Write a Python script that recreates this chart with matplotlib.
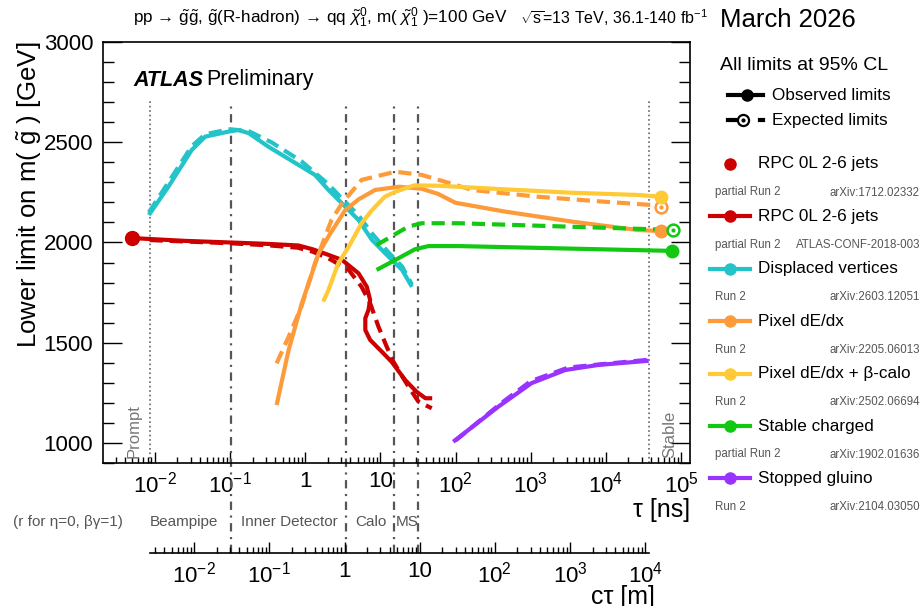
import numpy as np
import matplotlib
matplotlib.use("Agg")
import matplotlib.pyplot as plt
import matplotlib.transforms as mtransforms
from matplotlib.lines import Line2D
from matplotlib.ticker import FixedLocator, NullFormatter, FuncFormatter, MultipleLocator

plt.rcParams['font.family'] = ['Liberation Sans', 'DejaVu Sans']
plt.rcParams['mathtext.fontset'] = 'custom'
plt.rcParams['mathtext.rm'] = 'Liberation Sans'
plt.rcParams['mathtext.it'] = 'Liberation Sans:italic'
plt.rcParams['mathtext.bf'] = 'Liberation Sans:bold'
plt.rcParams['lines.scale_dashes'] = False

C_LIGHT = 0.2998  # m per ns

# ------------------------------------------------------------
# limits: log10(tau / ns), m(gluino) [GeV]
# ------------------------------------------------------------
rpc_prompt_logtau = [-2.30]
rpc_prompt_mass = [2022]

rpc_obs_logtau = [-2.30, -1.6, -1.0, -0.5, -0.09, 0.10, 0.31, 0.49, 0.71, 0.82, 0.864,
                  0.842, 0.80, 0.80, 0.864, 1.02, 1.15, 1.33, 1.48, 1.60, 1.69]
rpc_obs_mass = [2022, 2008, 2000, 1993, 1985, 1966, 1938, 1913, 1846, 1779, 1713,
                1663, 1622, 1563, 1514, 1455, 1405, 1314, 1256, 1223, 1223]
rpc_exp_logtau = [-2.07, -1.0, -0.5, -0.10, 0.10, 0.31, 0.58, 0.75, 0.864, 0.975,
                  1.085, 1.174, 1.374, 1.507, 1.684]
rpc_exp_mass = [2012, 1996, 1986, 1974, 1954, 1921, 1863, 1779, 1697, 1580,
                1480, 1405, 1281, 1206, 1173]

dv_obs_logtau = [-2.08, -1.82, -1.51, -1.33, -1.02, -0.89, -0.75, -0.49, -0.05, 0.13,
                 0.31, 0.49, 0.71, 0.89, 1.11, 1.29, 1.42]
dv_obs_mass = [2137, 2278, 2461, 2528, 2553, 2561, 2545, 2478, 2378, 2337,
               2262, 2195, 2112, 2012, 1929, 1863, 1779]
dv_exp_logtau = [-2.08, -1.82, -1.51, -1.33, -1.0, -0.75, -0.45, -0.05, 0.31, 0.50,
                 0.71, 0.90, 1.11, 1.29, 1.42]
dv_exp_mass = [2150, 2300, 2480, 2540, 2565, 2555, 2500, 2405, 2290, 2215,
               2135, 2040, 1950, 1880, 1790]

pix_obs_logtau = [-0.38, -0.22, -0.05, 0.18, 0.31, 0.53, 0.71, 0.93, 1.25, 1.55,
                  1.77, 2.00, 2.66, 3.55, 4.43, 4.74]
pix_obs_mass = [1189, 1464, 1690, 1946, 2030, 2160, 2215, 2262, 2278, 2268,
                2242, 2198, 2154, 2104, 2062, 2057]
pix_exp_logtau = [-0.38, -0.22, -0.05, 0.13, 0.35, 0.49, 0.75, 1.20, 1.55, 1.86,
                  2.22, 3.10, 3.99, 4.61, 4.74]
pix_exp_mass = [1397, 1530, 1680, 1896, 2112, 2195, 2312, 2353, 2337, 2303,
                2262, 2228, 2203, 2187, 2176]

pixcalo_obs_logtau = [0.24, 0.31, 0.44, 0.58, 0.75, 0.89, 1.06, 1.20, 1.45, 1.77,
                      2.66, 3.55, 4.43, 4.74]
pixcalo_obs_mass = [1705, 1763, 1896, 1979, 2096, 2162, 2228, 2253, 2285, 2283,
                    2265, 2248, 2237, 2228]

stable_obs_logtau = [0.95, 1.20, 1.46, 1.64, 2.04, 4.88]
stable_obs_mass = [1863, 1913, 1966, 1982, 1982, 1958]
stable_exp_logtau = [0.95, 1.37, 1.55, 2.04, 4.61, 4.90]
stable_exp_mass = [1987, 2079, 2096, 2096, 2066, 2062]

stopped_obs_logtau = [1.97, 2.57, 3.01, 3.46, 3.90, 4.57]
stopped_obs_mass = [1006, 1181, 1298, 1364, 1389, 1410]
stopped_exp_logtau = [2.00, 2.60, 3.00, 3.50, 4.00, 4.57]
stopped_exp_mass = [1012, 1196, 1308, 1376, 1395, 1415]

# detector boundaries (r in m for eta=0, beta*gamma=1)
boundary_r = [0.031, 1.05, 4.6, 9.5]
prompt_logtau = -2.07
stable_logtau = 4.57

RED = '#cc0000'
CYAN = '#22c4c9'
ORANGE = '#fd9a3a'
YELLOW = '#ffca35'
GREEN = '#12c812'
PURPLE = '#9933ff'
GREY = '#555555'

legend_entries = [
    ("RPC 0L 2-6 jets", "partial Run 2", "arXiv:1712.02332", RED, False),
    ("RPC 0L 2-6 jets", "partial Run 2", "ATLAS-CONF-2018-003", RED, True),
    ("Displaced vertices", "Run 2", "arXiv:2603.12051", CYAN, True),
    ("Pixel dE/dx", "Run 2", "arXiv:2205.06013", ORANGE, True),
    ("Pixel dE/dx + β-calo", "Run 2", "arXiv:2502.06694", YELLOW, True),
    ("Stable charged", "partial Run 2", "arXiv:1902.01636", GREEN, True),
    ("Stopped gluino", "Run 2", "arXiv:2104.03050", PURPLE, True),
]

W, H = 923, 606


def fx(x):
    return x / W


def fy(y):
    return 1 - y / H


fig = plt.figure(figsize=(W / 100, H / 100), dpi=100)
ax = fig.add_axes([fx(103), fy(463), fx(690) - fx(103), fy(42) - fy(463)])

LW = 3.0
DASH = (9.5, 5.0)


def tau(lt):
    return 10 ** np.asarray(lt, dtype=float)


def curve(lt, m, color, dashed=False, end=None):
    kw = dict(color=color, lw=LW, solid_capstyle='butt', zorder=3)
    if dashed:
        ln, = ax.plot(tau(lt), m, **kw)
        ln.set_dashes(DASH)
    else:
        ax.plot(tau(lt), m, **kw)
    if end == 'filled':
        ax.plot(tau(lt[-1:]), m[-1:], 'o', color=color, ms=9, zorder=4)
    elif end == 'open':
        ax.plot(tau(lt[-1:]), m[-1:], 'o', mfc='white', mec=color, mew=1.8, ms=8.5, zorder=4)
        ax.plot(tau(lt[-1:]), m[-1:], 'o', color=color, ms=2, zorder=5)


curve(dv_exp_logtau, dv_exp_mass, CYAN, dashed=True)
curve(dv_obs_logtau, dv_obs_mass, CYAN)
curve(rpc_exp_logtau, rpc_exp_mass, RED, dashed=True)
curve(rpc_obs_logtau, rpc_obs_mass, RED)
ax.plot(tau(rpc_prompt_logtau), rpc_prompt_mass, 'o', color=RED, ms=10, zorder=4)
curve(pix_exp_logtau, pix_exp_mass, ORANGE, dashed=True, end='open')
curve(pix_obs_logtau, pix_obs_mass, ORANGE, end='filled')
curve(pixcalo_obs_logtau, pixcalo_obs_mass, YELLOW, end='filled')
curve(stable_exp_logtau, stable_exp_mass, GREEN, dashed=True, end='open')
curve(stable_obs_logtau, stable_obs_mass, GREEN, end='filled')
curve(stopped_exp_logtau, stopped_exp_mass, PURPLE, dashed=True)
curve(stopped_obs_logtau, stopped_obs_mass, PURPLE)

xlo, xhi = 10 ** -2.69, 10 ** 5.12
ax.set_xscale('log')
ax.set_xlim(xlo, xhi)
ax.set_ylim(900, 3000)


def pow_fmt(v, pos):
    e = int(round(np.log10(v)))
    if e == 0:
        return '1'
    if e == 1:
        return '10'
    return r'$10^{%d}$' % e


ax.xaxis.set_major_locator(FixedLocator([10.0 ** e for e in range(-2, 6)]))
ax.xaxis.set_major_formatter(FuncFormatter(pow_fmt))
ax.xaxis.set_minor_formatter(NullFormatter())
ax.yaxis.set_major_locator(MultipleLocator(500))
ax.yaxis.set_minor_locator(MultipleLocator(100))
ax.tick_params(axis='y', which='both', direction='in', right=True, labelsize=16, pad=7)
ax.tick_params(axis='y', which='major', length=14, width=1)
ax.tick_params(axis='y', which='minor', length=8, width=1)
ax.tick_params(axis='x', which='both', direction='in', labelsize=16, pad=6)
ax.tick_params(axis='x', which='major', length=8, width=1)
ax.tick_params(axis='x', which='minor', length=4.5, width=1)
for s in ax.spines.values():
    s.set_linewidth(1.2)

ax.set_ylabel(r'Lower limit on m( $\tilde{\mathrm{g}}$ ) [GeV]', fontsize=18.5, labelpad=0, loc='top')

# vertical guide lines
xt = ax.get_xaxis_transform()
for r in boundary_r:
    ln, = ax.plot([r / C_LIGHT] * 2, [-0.214, 0.855], transform=xt, clip_on=False,
                  color=GREY, lw=1.6, zorder=2)
    ln.set_dashes((6, 4, 1.5, 4))
for lt in (prompt_logtau, stable_logtau):
    ln, = ax.plot([10 ** lt] * 2, [0, 0.862], transform=xt, color='#666666', lw=1.2, zorder=2)
    ln.set_dashes((1.2, 2.0))
left_shift = mtransforms.offset_copy(xt, fig=fig, x=-6, y=0, units='points')
right_shift = mtransforms.offset_copy(xt, fig=fig, x=10, y=0, units='points')
ax.text(10 ** prompt_logtau, 0.012, 'Prompt', transform=left_shift, rotation=90, ha='right',
        va='bottom', color='#777777', fontsize=12)
ax.text(10 ** stable_logtau, 0.012, 'Stable', transform=right_shift, rotation=90, ha='left',
        va='bottom', color='#777777', fontsize=12)

# second axis: c*tau in m
ax2 = fig.add_axes([fx(103), fy(553), fx(690) - fx(103), 0.001])
ax2.set_xscale('log')
ax2.set_xlim(xlo * C_LIGHT, xhi * C_LIGHT)
b_lo, b_hi = 10 ** prompt_logtau * C_LIGHT, 10 ** stable_logtau * C_LIGHT
for k in ('left', 'right', 'top'):
    ax2.spines[k].set_visible(False)
ax2.spines['bottom'].set_bounds(b_lo, b_hi)
ax2.spines['bottom'].set_linewidth(1.2)
ax2.patch.set_visible(False)
ax2.set_yticks([])
ax2.xaxis.set_major_locator(FixedLocator([10.0 ** e for e in range(-2, 5)]))
minors = [s * 10.0 ** e for e in range(-3, 5) for s in range(2, 10) if b_lo <= s * 10.0 ** e <= b_hi]
ax2.xaxis.set_minor_locator(FixedLocator(minors))
ax2.xaxis.set_major_formatter(FuncFormatter(pow_fmt))
ax2.xaxis.set_minor_formatter(NullFormatter())
ax2.tick_params(axis='x', which='both', direction='in', labelsize=16, pad=6)
ax2.tick_params(axis='x', which='major', length=8, width=1)
ax2.tick_params(axis='x', which='minor', length=4.5, width=1)

# axis titles and annotations
fig.text(fx(690), fy(510), 'τ [ns]', ha='right', va='center', fontsize=18)
fig.text(fx(655), fy(597), 'cτ [m]', ha='right', va='center', fontsize=18)
fig.text(fx(13), fy(522), '(r for η=0, βγ=1)', ha='left', va='center',
         fontsize=11, color='#555555')
for label, x0 in (('Beampipe', 150), ('Inner Detector', 241), ('Calo', 355), ('MS', 396)):
    fig.text(fx(x0), fy(522), label, ha='left', va='center', fontsize=11, color='#555555')

fig.text(fx(133), fy(80), 'ATLAS', ha='left', va='center', fontsize=15.5, weight='bold', style='italic')
fig.text(fx(206), fy(80), 'Preliminary', ha='left', va='center', fontsize=15.5)

fig.text(fx(133), fy(18),
         r'pp → $\tilde{\mathrm{g}}\tilde{\mathrm{g}}$, $\tilde{\mathrm{g}}$(R-hadron) '
         r'→ qq $\tilde{\chi}^{0}_{1}$, m( $\tilde{\chi}^{0}_{1}$ )=100 GeV',
         ha='left', va='center', fontsize=12.3)
fig.text(fx(520), fy(18), r'$\sqrt{\mathrm{s}}$=13 TeV, 36.1-140 fb$^{-1}$', ha='left', va='center',
         fontsize=11.5)

# legend block
fig.text(fx(720), fy(20), 'March 2026', ha='left', va='center', fontsize=18.5)
fig.text(fx(720), fy(65), 'All limits at 95% CL', ha='left', va='center', fontsize=14)
fig.add_artist(Line2D([fx(728), fx(763)], [fy(95)] * 2, color='black', lw=LW))
fig.add_artist(Line2D([fx(747)], [fy(95)], marker='o', color='black', ms=8))
fig.text(fx(772), fy(95), 'Observed limits', ha='left', va='center', fontsize=12.3)
fig.add_artist(Line2D([fx(728), fx(737)], [fy(120)] * 2, color='black', lw=LW))
fig.add_artist(Line2D([fx(743)], [fy(120)], marker='o', mfc='white', mec='black', mew=1.6, ms=8))
fig.add_artist(Line2D([fx(743)], [fy(120)], marker='o', color='black', ms=2))
fig.add_artist(Line2D([fx(760), fx(763)], [fy(120)] * 2, color='black', lw=LW))
fig.text(fx(772), fy(120), 'Expected limits', ha='left', va='center', fontsize=12.3)

y0, dy = 164, 52.4
for i, (name, run, ref, color, has_line) in enumerate(legend_entries):
    y = y0 + i * dy
    if has_line:
        fig.add_artist(Line2D([fx(710), fx(750)], [fy(y)] * 2, color=color, lw=LW))
    fig.add_artist(Line2D([fx(730)], [fy(y)], marker='o', color=color, ms=8))
    fig.text(fx(758), fy(y), name, ha='left', va='center', fontsize=12.3)
    fig.text(fx(715), fy(y + 28.5), run, ha='left', va='center', fontsize=8.3, color='#555555')
    fig.text(fx(920), fy(y + 28.5), ref, ha='right', va='center', fontsize=8.3, color='#555555')

fig.savefig('out.png', dpi=100)
